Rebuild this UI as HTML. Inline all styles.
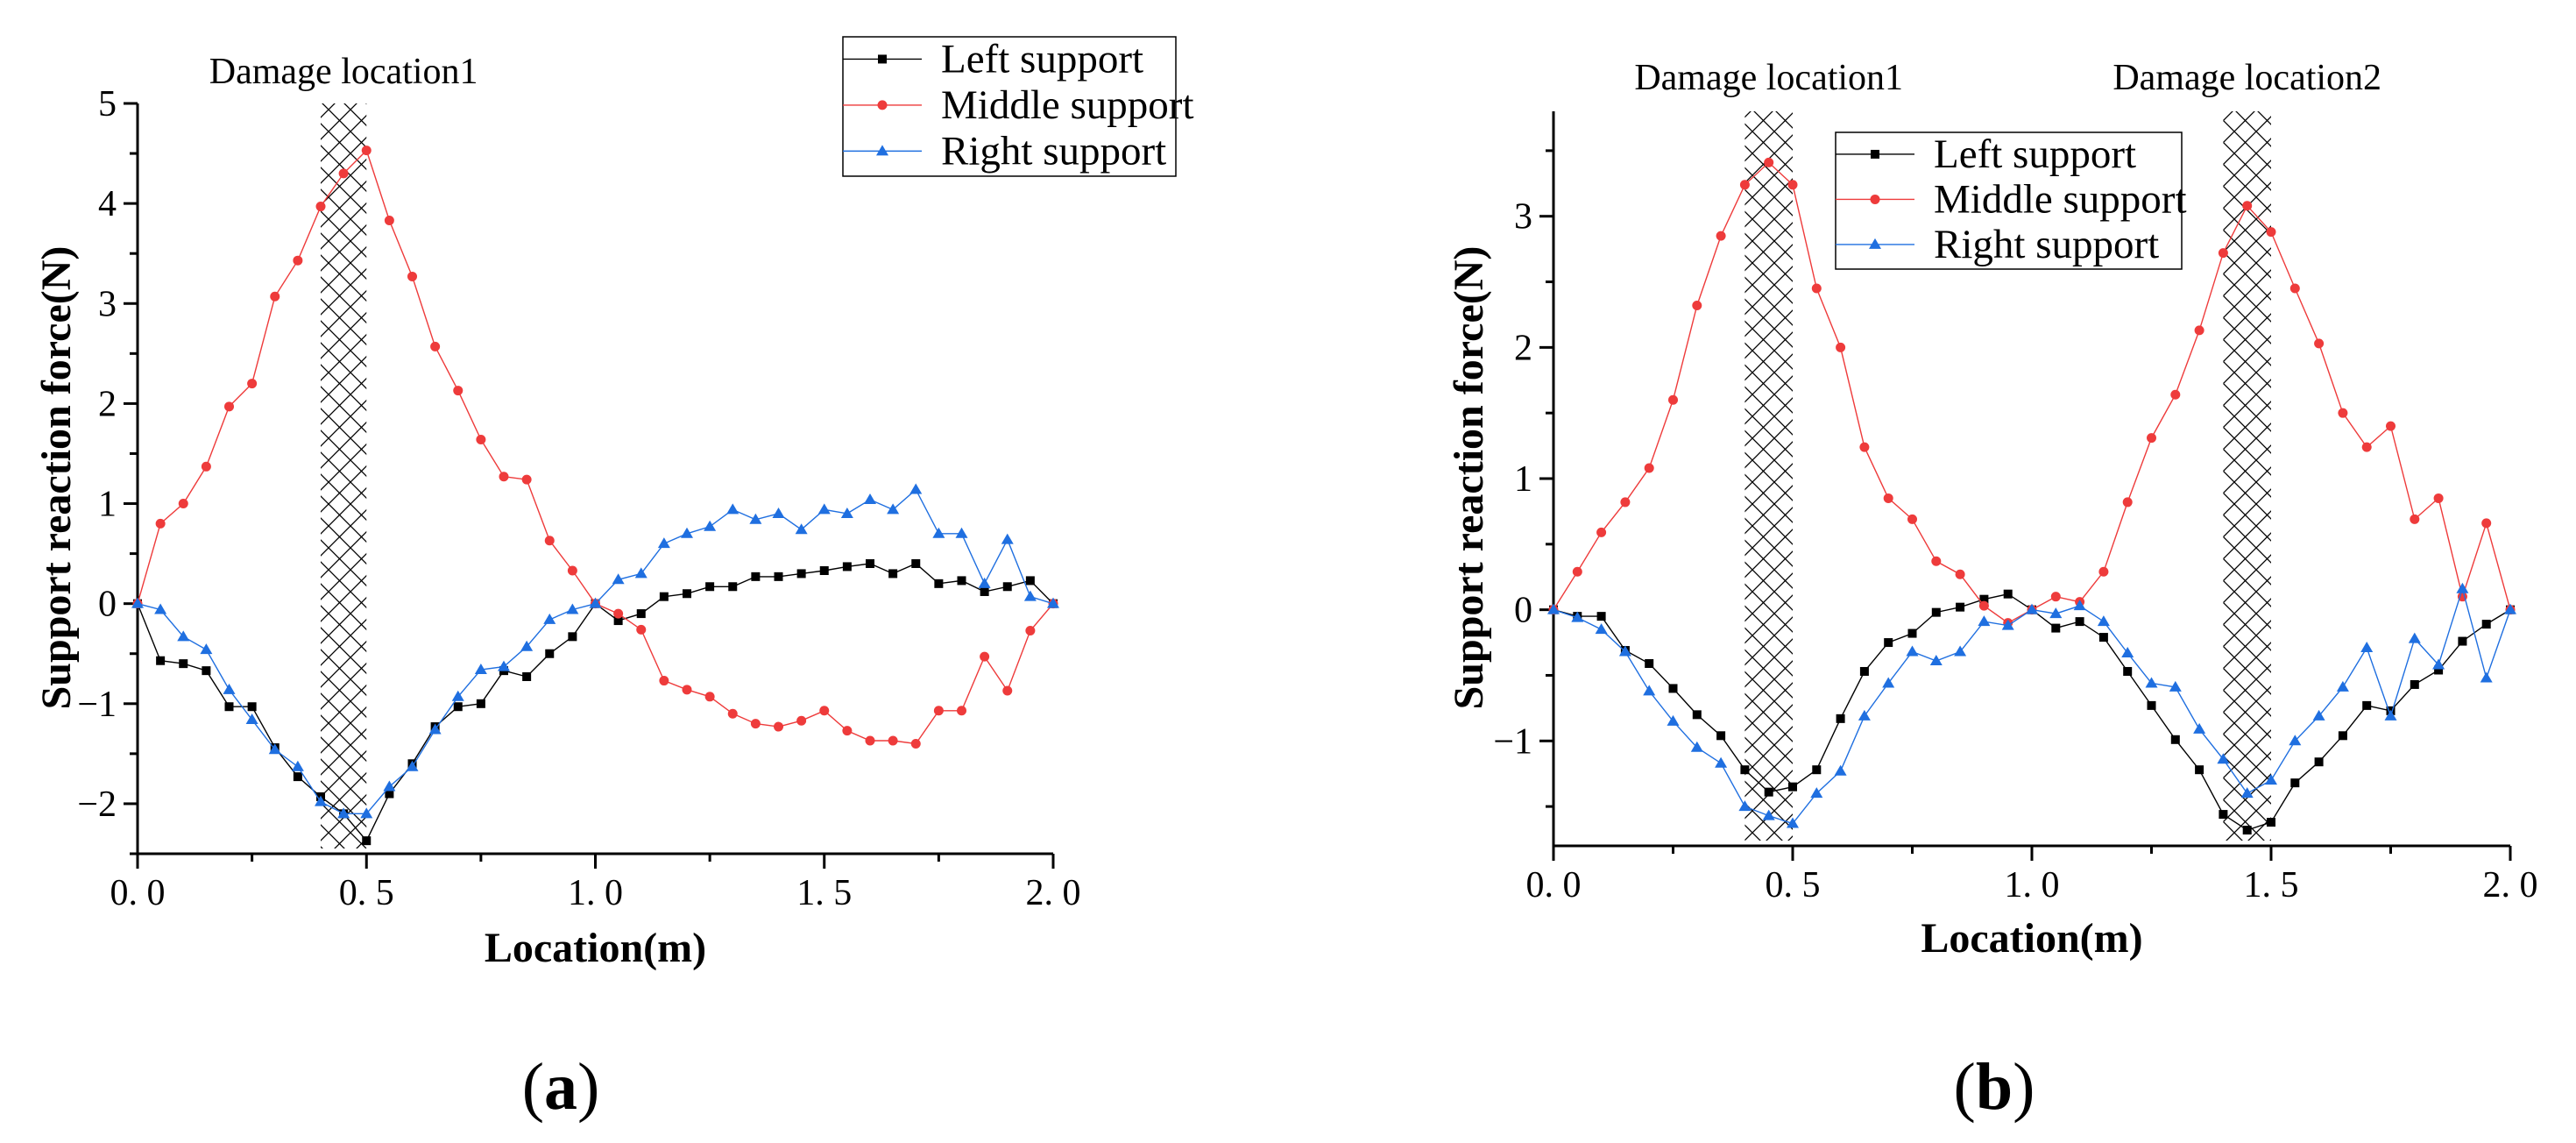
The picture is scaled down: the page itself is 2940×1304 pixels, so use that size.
<!DOCTYPE html>
<html><head><meta charset="utf-8"><style>
html,body{margin:0;padding:0;background:#fff;}
svg{display:block;font-family:'Liberation Serif','DejaVu Serif',serif;}
svg text{font-family:'Liberation Serif','DejaVu Serif',serif;fill:#000;}
</style></head><body>
<svg id="fig" width="2940" height="1304" viewBox="0 0 2940 1304" xmlns="http://www.w3.org/2000/svg" font-family="Liberation Serif, serif">
<defs>
<pattern id="hatch" patternUnits="userSpaceOnUse" width="25" height="25">
<path d="M0,0 L25,25 M25,0 L0,25" stroke="#000" stroke-width="1.3" fill="none"/>
</pattern>
</defs>
</svg>
<script>
const xs = [0,0.05,0.1,0.15,0.2,0.25,0.3,0.35,0.4,0.45,0.5,0.55,0.6,0.65,0.7,0.75,0.8,0.85,0.9,0.95,1.0,1.05,1.1,1.15,1.2,1.25,1.3,1.35,1.4,1.45,1.5,1.55,1.6,1.65,1.7,1.75,1.8,1.85,1.9,1.95,2.0];
const aLeft = [0,-0.57,-0.6,-0.67,-1.03,-1.03,-1.44,-1.73,-1.93,-2.1,-2.37,-1.9,-1.6,-1.23,-1.03,-1.0,-0.67,-0.73,-0.5,-0.33,0,-0.17,-0.1,0.07,0.1,0.17,0.17,0.27,0.27,0.3,0.33,0.37,0.4,0.3,0.4,0.2,0.23,0.12,0.17,0.23,0];
const aMiddle = [0,0.8,1.0,1.37,1.97,2.2,3.07,3.43,3.97,4.3,4.53,3.83,3.27,2.57,2.13,1.64,1.27,1.24,0.63,0.33,0,-0.1,-0.26,-0.77,-0.86,-0.93,-1.1,-1.2,-1.23,-1.17,-1.07,-1.27,-1.37,-1.37,-1.4,-1.07,-1.07,-0.53,-0.87,-0.27,0];
const aRight = [0,-0.06,-0.33,-0.46,-0.86,-1.16,-1.46,-1.63,-1.98,-2.1,-2.1,-1.83,-1.63,-1.26,-0.93,-0.66,-0.63,-0.43,-0.16,-0.06,0,0.24,0.3,0.6,0.7,0.77,0.94,0.84,0.9,0.74,0.94,0.9,1.04,0.94,1.14,0.7,0.7,0.2,0.64,0.07,0];
const bLeft = [0,-0.05,-0.05,-0.31,-0.41,-0.6,-0.8,-0.96,-1.22,-1.39,-1.35,-1.22,-0.83,-0.47,-0.25,-0.18,-0.02,0.02,0.08,0.12,0,-0.14,-0.09,-0.21,-0.47,-0.73,-0.99,-1.22,-1.56,-1.68,-1.62,-1.32,-1.16,-0.96,-0.73,-0.77,-0.57,-0.46,-0.24,-0.11,0];
const bMiddle = [0,0.29,0.59,0.82,1.08,1.6,2.32,2.85,3.24,3.41,3.24,2.45,2.0,1.24,0.85,0.69,0.37,0.27,0.03,-0.1,0,0.1,0.06,0.29,0.82,1.31,1.64,2.13,2.72,3.08,2.88,2.45,2.03,1.5,1.24,1.4,0.69,0.85,0.1,0.66,0];
const bRight = [0,-0.06,-0.15,-0.32,-0.62,-0.85,-1.05,-1.17,-1.5,-1.57,-1.63,-1.4,-1.23,-0.81,-0.56,-0.32,-0.39,-0.32,-0.09,-0.12,0,-0.03,0.03,-0.09,-0.33,-0.56,-0.59,-0.91,-1.14,-1.4,-1.3,-1.0,-0.81,-0.59,-0.29,-0.81,-0.22,-0.42,0.16,-0.52,0];
const xTickVals = [0,0.5,1.0,1.5,2.0];
const xTickLabels = ["0. 0","0. 5","1. 0","1. 5","2. 0"];
const aYTicks = [-2,-1,0,1,2,3,4,5];
const bYTicks = [-1,0,1,2,3];
const aDamage = [[0.4,0.5]];
const bDamage = [[0.4,0.5],[1.4,1.5]];
const seriesNames = ["Left support","Middle support","Right support"];
const seriesColors = ["#000000","#ee3b3b","#1f6fe0"];

const NS="http://www.w3.org/2000/svg";
const FONT="Liberation Serif, DejaVu Serif, serif";
const svg=document.getElementById('fig');
function mk(tag,attrs,parent){const e=document.createElementNS(NS,tag);if(tag==='text')e.setAttribute('font-family',FONT);for(const k in attrs)e.setAttribute(k,attrs[k]);(parent||svg).appendChild(e);return e;}

function marker(g,kind,x,y,color){
  let m;
  if(kind===0){m=mk('rect',{x:x-5,y:y-5,width:10,height:10,fill:color},g);}
  else if(kind===1){m=mk('circle',{cx:x,cy:y,r:5.5,fill:color},g);}
  else{m=mk('path',{d:`M${x},${y-7} L${x+7},${y+5} L${x-7},${y+5} Z`,fill:color},g);}
  
  
}

function panel(p){
  const g=mk('g',{});
  
  
  const sx=v=>p.x0+(v-0)/(2-0)*(p.x1-p.x0);
  const sy=v=>p.y0+(p.yTop-v)/(p.yTop-p.yMin)*(p.yBot-p.y0);
  p.damage.forEach((d,i)=>{
    const r=mk('rect',{x:sx(d[0]),y:p.y0,width:sx(d[1])-sx(d[0]),height:p.yBot-p.y0-6,fill:'url(#hatch)'},g);
    
    
    const t=mk('text',{x:(sx(d[0])+sx(d[1]))/2,y:p.dmgY,'font-size':42,'text-anchor':'middle'},g);
    t.textContent='Damage location'+(i+1);
    
    
  });
  const ax=mk('path',{d:`M${p.x0},${p.y0} L${p.x0},${p.yBot} L${p.x1},${p.yBot}`,stroke:'#000','stroke-width':3,fill:'none'},g);
  
  
  p.yTicks.forEach(v=>{
    const y=sy(v);
    mk('line',{x1:p.x0-16,y1:y,x2:p.x0,y2:y,stroke:'#000','stroke-width':3},g);
    const t=mk('text',{x:p.x0-24,y:y+14,'font-size':42,'text-anchor':'end'},g);
    t.textContent=(v<0?'−':'')+Math.abs(v);
    
    
  });
  for(let v=Math.ceil(p.yMin*2)/2; v<=p.yTop; v+=0.5){
    if(Math.abs(v-Math.round(v))<1e-6) continue;
    const y=sy(v);
    mk('line',{x1:p.x0-9,y1:y,x2:p.x0,y2:y,stroke:'#000','stroke-width':3},g);
  }
  xTickVals.forEach((v,i)=>{
    const x=sx(v);
    mk('line',{x1:x,y1:p.yBot,x2:x,y2:p.yBot+17,stroke:'#000','stroke-width':3},g);
    const t=mk('text',{x:x,y:p.xLabY,'font-size':42,'text-anchor':'middle'},g);
    t.textContent=xTickLabels[i];
    
    
  });
  for(let v=0.25; v<2; v+=0.5){
    const x=sx(v);
    mk('line',{x1:x,y1:p.yBot,x2:x,y2:p.yBot+9,stroke:'#000','stroke-width':3},g);
  }
  p.series.forEach((s,k)=>{
    const sg=mk('g',{},g);
    
    
    const d=xs.map((x,i)=>(i?'L':'M')+sx(x).toFixed(1)+','+sy(s[i]).toFixed(1)).join(' ');
    mk('path',{d:d,stroke:seriesColors[k],'stroke-width':1.4,fill:'none'},sg);
    xs.forEach((x,i)=>marker(sg,k,sx(x),sy(s[i]),seriesColors[k]));
  });
  const lg=mk('g',{},g);
  
  
  mk('rect',{x:p.lg[0],y:p.lg[1],width:p.lg[2],height:p.lg[3],fill:'#fff',stroke:'#000','stroke-width':1.5},lg);
  seriesNames.forEach((n,k)=>{
    const yy=p.lg[1]+p.lg[3]*(0.16+0.33*k);
    const eg=mk('g',{},lg);
    
    
    mk('line',{x1:p.lg[0],y1:yy,x2:p.lg[0]+90,y2:yy,stroke:seriesColors[k],'stroke-width':1.4},eg);
    marker(eg,k,p.lg[0]+45,yy,seriesColors[k]);
    const t=mk('text',{x:p.lg[0]+112,y:yy+15,'font-size':47},eg);
    t.textContent=n;
  });
  const xt=mk('text',{x:(p.x0+p.x1)/2,y:p.xTitleY,'font-size':48,'font-weight':'bold','text-anchor':'middle'},g);
  xt.textContent='Location(m)';
  
  
  const yt=mk('text',{x:0,y:0,'font-size':48,'font-weight':'bold','text-anchor':'middle',transform:`translate(${p.yTitleX},${p.yTitleC}) rotate(-90)`},g);
  yt.textContent='Support reaction force(N)';
  
  
  const pl=mk('text',{x:p.plX,y:1265,'font-size':76,'text-anchor':'middle'},g);
  pl.innerHTML='(<tspan font-weight="bold">'+p.letter+'</tspan>)';
  
  
}

panel({id:'panel-a',letter:'a',x0:157,x1:1202,y0:118,yBot:974,yTop:5,yMin:-2.5,yTicks:aYTicks,
  damage:aDamage,dmgY:95,series:[aLeft,aMiddle,aRight],lg:[962,42,380,159],
  xLabY:1032,xTitleY:1097,yTitleX:80,yTitleC:545,plX:640});
panel({id:'panel-b',letter:'b',x0:1773,x1:2865,y0:127,yBot:965,yTop:3.8,yMin:-1.8,yTicks:bYTicks,
  damage:bDamage,dmgY:102,series:[bLeft,bMiddle,bRight],lg:[2095,151,395,156],
  xLabY:1023,xTitleY:1086,yTitleX:1692,yTitleC:545,plX:2276});
</script>
</body></html>
